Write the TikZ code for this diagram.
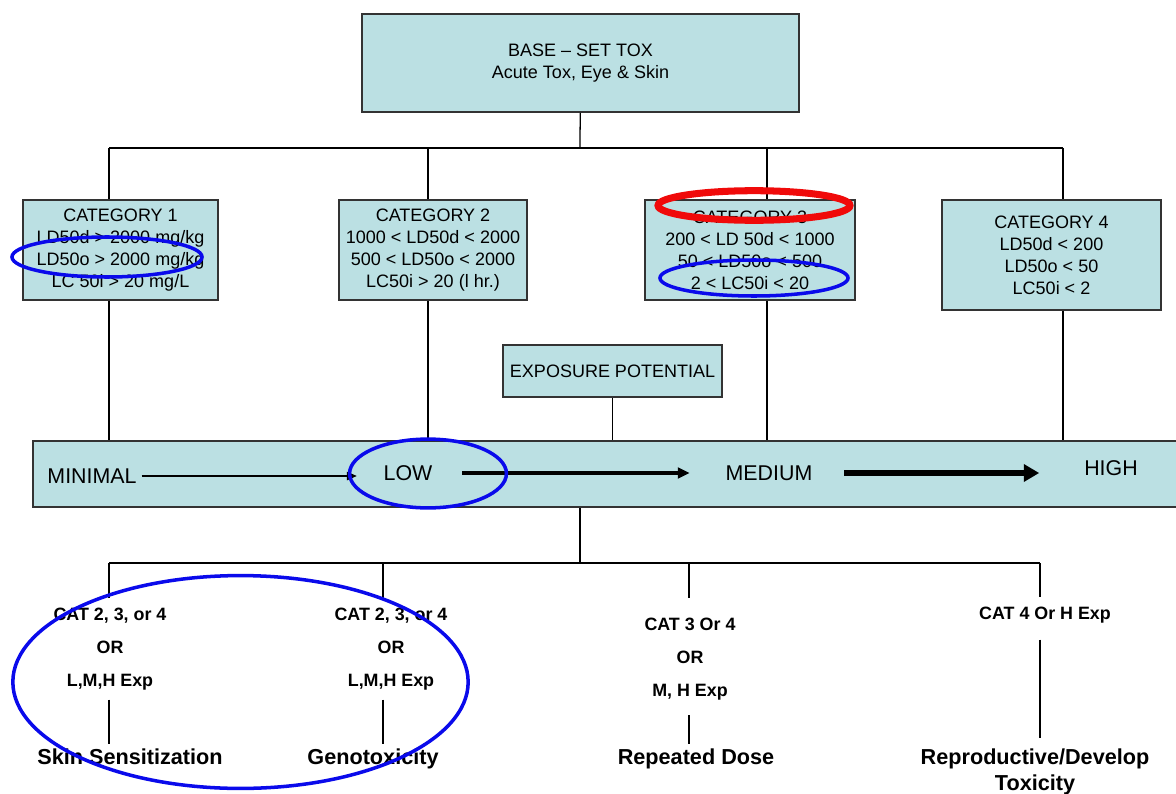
\documentclass[tikz,border=0pt]{standalone}
\usepackage{fontspec}
\setmainfont{Liberation Sans}
\usetikzlibrary{arrows.meta}
\definecolor{boxblue}{RGB}{187,224,227}
\definecolor{markblue}{RGB}{10,10,235}
\definecolor{markred}{RGB}{240,10,10}
\begin{document}
\begin{tikzpicture}[x=0.025cm, y=-0.025cm,
  box/.style={draw=black!80, line width=1.1pt, fill=boxblue, align=center,
    font=\fontsize{12.8}{15.6}\selectfont},
  link/.style={line width=0.9pt},
  level/.style={font=\fontsize{15.2}{18}\selectfont},
  cond/.style={align=center, anchor=north, inner ysep=6.7pt,
    font=\bfseries\fontsize{12.7}{23.5}\selectfont},
  test/.style={align=center, anchor=north, font=\bfseries\fontsize{15.4}{18.5}\selectfont},
  ring/.style={draw=markblue, line width=2.5pt}]
  \useasboundingbox (0,0) rectangle (1176,794);
  \node[box, minimum width=10.925cm, minimum height=2.45cm] (base) at (580.5,63)
    {BASE -- SET TOX\\Acute Tox, Eye \& Skin};
  \node[box, minimum width=4.875cm, minimum height=2.5cm] (cat1) at (120.5,250)
    {CATEGORY 1\\LD50d > 2000 mg/kg\\LD50o > 2000 mg/kg\\LC 50i > 20 mg/L};
  \node[box, minimum width=4.7cm, minimum height=2.5cm] (cat2) at (433,250)
    {CATEGORY 2\\1000 < LD50d < 2000\\500 < LD50o < 2000\\LC50i > 20 (l hr.)};
  \node[box, minimum width=5.25cm, minimum height=2.5cm] (cat3) at (750,250)
    {CATEGORY 3\\200 < LD 50d < 1000\\50 < LD50o < 500\\2 < LC50i < 20};
  \node[box, minimum width=5.475cm, minimum height=2.75cm] (cat4) at (1051.5,255)
    {CATEGORY 4\\LD50d < 200\\LD50o < 50\\LC50i < 2};
  \node[box, minimum width=5.475cm, minimum height=1.3cm] (expo) at (612.5,371)
    {EXPOSURE POTENTIAL};
  \node[box, minimum width=28.675cm, minimum height=1.65cm] (scale) at (606.5,474) {};
  \node[level] (minimal) at (92,476) {MINIMAL};
  \node[level] (low) at (408,473) {LOW};
  \node[level] (medium) at (769,473) {MEDIUM};
  \node[level] (high) at (1111,468) {HIGH};
  \draw[line width=0.8pt, -{Triangle[length=7pt,width=6pt]}, shorten >=15.6pt]
    (minimal.east) -- (minimal.east -| low.west);
  \draw[line width=2.2pt, -{Triangle[length=8.5pt,width=7.5pt]}, shorten <=17.8pt, shorten >=22pt]
    (low) -- (medium);
  \draw[line width=4pt, -{Triangle[length=11pt,width=12pt]}, shorten <=19pt, shorten >=28.5pt]
    (medium) -- (medium -| high.west);
  \coordinate (top) at (580,148);
  \draw[link] (base) -- (top);
  \foreach \c/\x in {cat1/109, cat2/428, cat3/767, cat4/1063}
    \coordinate (t\c) at (\x,148);
  \draw[link] (tcat1) -- (tcat4);
  \foreach \c in {cat1, cat2, cat3, cat4} {
    \draw[link] (t\c) -- (t\c |- \c.north);
    \draw[link] (t\c |- \c.south) -- (t\c |- scale.north);
  }
  \draw[link] (expo) -- (expo |- scale.north);
  \node[cond] (skinc) at (110,598) {CAT 2, 3, or 4\\OR\\L,M,H Exp};
  \node[cond] (genoc) at (391,598) {CAT 2, 3, or 4\\OR\\L,M,H Exp};
  \node[cond] (repc) at (690,608) {CAT 3 Or 4\\OR\\M, H Exp};
  \node[cond] (reproc) at (1045,597) {CAT 4 Or H Exp};
  \node[test] (skin) at (130,744) {Skin Sensitization};
  \node[test] (geno) at (373,744) {Genotoxicity};
  \node[test] (rep) at (696,744) {Repeated Dose};
  \node[test] (repro) at (1035,744) {Reproductive/Develop\\Toxicity};
  \coordinate (bot) at (580,563);
  \coordinate (bskin) at (109,563);
  \coordinate (bgeno) at (383,563);
  \coordinate (brep) at (689,563);
  \coordinate (brepro) at (1040,563);
  \draw[link] (scale.south -| bot) -- (bot);
  \draw[link] (bskin) -- (brepro);
  \draw[link] (bskin) -- (bskin |- skinc.north);
  \draw[link] (bgeno) -- (bgeno |- genoc.north);
  \draw[link, shorten >=7pt] (brep) -- (brep |- repc.north);
  \draw[link] (brepro) -- (brepro |- reproc.north);
  \draw[link] (bskin |- skinc.south) -- (bskin |- skin.north);
  \draw[link] (bgeno |- genoc.south) -- (bgeno |- geno.north);
  \draw[link, shorten <=4pt] (brep |- repc.south) -- (brep |- rep.north);
  \draw[link, shorten <=5pt, shorten >=4pt] (brepro |- reproc.south) -- (brepro |- repro.north);
  \draw[ring] (107,257) ellipse [x radius=2.375cm, y radius=0.5cm];
  \draw[ring] (428,473.5) ellipse [x radius=1.96cm, y radius=0.86cm];
  \draw[ring] (754,278) ellipse [x radius=2.35cm, y radius=0.45cm];
  \draw[ring] (240.5,682) ellipse [x radius=5.69cm, y radius=2.66cm];
  \draw[draw=markred, line width=5pt] (754,205.5) ellipse [x radius=2.4cm, y radius=0.37cm];
\end{tikzpicture}
\end{document}
